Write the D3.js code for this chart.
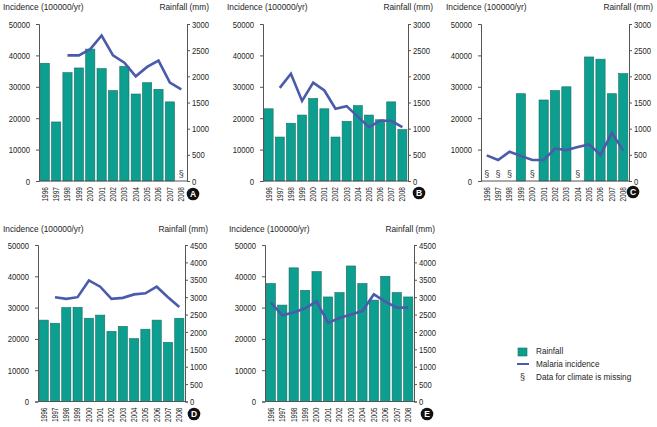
<!DOCTYPE html>
<html><head><meta charset="utf-8">
<script src="https://cdn.jsdelivr.net/npm/d3@7"></script>
<style>
body{margin:0;background:#fff;}
svg{display:block;font-family:"Liberation Sans",Arial,sans-serif;}
</style></head>
<body>
<script>
const years = ["1996","1997","1998","1999","2000","2001","2002","2003","2004","2005","2006","2007","2008"];

// Bars (left axis, Incidence scale) — null = climate data missing (§)
const barsA = [37500,18800,34500,36000,42000,35800,28800,36500,27700,31300,29200,25200,null];
const lineA = [null,null,2400,2400,2520,2780,2400,2260,2000,2180,2300,1880,1750];
const barsB = [23000,14000,18400,21000,26300,23000,14000,19000,24000,21000,19500,25200,16400];
const lineB = [null,1780,2050,1530,1880,1730,1380,1430,1230,1030,1150,1150,1030];
const barsC = [null,null,null,27800,null,25800,28800,30000,null,39500,38800,27800,34200];
const lineC = [490,400,560,480,400,400,620,590,650,700,500,920,580];
const barsD = [26000,25000,30000,30100,26600,27600,22400,24000,20100,23100,26000,18900,26600];
const lineD = [null,3000,2950,3000,3480,3300,2950,2980,3080,3110,3300,3000,2720];
const barsE = [37700,30800,42700,35500,41500,33400,34800,43300,37700,32400,40000,34800,33400];
const lineE = [2850,2480,2560,2680,2880,2260,2400,2500,2600,3080,2870,2700,2700];

const leftTicks = [0,10000,20000,30000,40000,50000];
const rightTicks3000 = [0,500,1000,1500,2000,2500,3000];
const rightTicks4500 = [0,500,1000,1500,2000,2500,3000,3500,4000,4500];

const leftTitle = "Incidence (100000/yr)";
const rightTitle = "Rainfall (mm)";
const legendItems = ["Rainfall","Malaria incidence","Data for climate is missing"];

const BAR = "#0c9e8e", BAR_EDGE = "#1a6e66", LINE = "#4b5bab", AXIS = "#555", TXT = "#1e1e1e";
const SX = 0.8, SXT = 0.86;

const svg = d3.select("body").append("svg").attr("width",657).attr("height",427);

function ctext(sel, x, y, sx){
  return sel.attr("x",0).attr("y",0).attr("transform",`translate(${x},${y}) scale(${sx},1)`);
}

function panel(cfg){
  const g = svg.append("g");
  const x = d3.scaleBand().domain(years).range([cfg.xl, cfg.xr]).paddingInner(0.19).paddingOuter(0.1);
  const y = d3.scaleLinear().domain([0,50000]).range([cfg.yb, cfg.yt]);
  const yr = d3.scaleLinear().domain([0,cfg.rmax]).range([cfg.yb, cfg.yt]);

  g.selectAll("rect.bar").data(years.map((d,i)=>({yr:d,v:cfg.bars[i]})).filter(d=>d.v!=null))
    .join("rect").attr("class","bar")
    .attr("x",d=>x(d.yr)).attr("width",x.bandwidth())
    .attr("y",d=>y(d.v)).attr("height",d=>y(0)-y(d.v))
    .attr("fill",BAR).attr("stroke",BAR_EDGE).attr("stroke-width",0.6);

  g.selectAll("text.miss").data(years.filter((d,i)=>cfg.bars[i]==null))
    .join("text").attr("class","miss")
    .attr("x",d=>x(d)+x.bandwidth()/2).attr("y",cfg.yb-4)
    .attr("text-anchor","middle").attr("font-size",9).attr("fill","#333").text("§");

  const line = d3.line().defined(d=>d.v!=null)
    .x(d=>x(d.yr)+x.bandwidth()/2).y(d=>yr(d.v));
  g.append("path").datum(years.map((d,i)=>({yr:d,v:cfg.line[i]})))
    .attr("d",line).attr("fill","none").attr("stroke",LINE).attr("stroke-width",2.6)
    .attr("stroke-linejoin","miter");

  const la = g.append("g").attr("transform",`translate(${cfg.xl},0)`)
    .call(d3.axisLeft(y).tickValues(leftTicks).tickSize(3).tickPadding(6).tickFormat(d3.format("d")));
  const ra = g.append("g").attr("transform",`translate(${cfg.xr},0)`)
    .call(d3.axisRight(yr).tickValues(cfg.rticks).tickSize(3).tickPadding(2).tickFormat(d3.format("d")));
  [la,ra].forEach(a=>{
    a.select(".domain").attr("stroke",AXIS).attr("stroke-width",1);
    a.selectAll(".tick line").attr("stroke",AXIS);
    a.selectAll(".tick text").attr("font-size",9.6).attr("fill",TXT).attr("font-family",null)
      .each(function(){
        const t = d3.select(this); const xv = +t.attr("x");
        t.attr("x", xv/SX).attr("transform",`scale(${SX},1)`);
      });
  });
  g.append("line").attr("x1",cfg.xl).attr("x2",cfg.xr).attr("y1",cfg.yb).attr("y2",cfg.yb)
    .attr("stroke",AXIS).attr("stroke-width",1);

  g.selectAll("text.yr").data(years).join("text").attr("class","yr")
    .attr("transform",d=>`translate(${x(d)+x.bandwidth()/2},${cfg.yb+6}) rotate(-90) scale(${SX},1)`)
    .attr("text-anchor","end").attr("dy","0.35em").attr("font-size",8.2).attr("fill",TXT).text(d=>d);

  ctext(g.append("text"),cfg.ltx,cfg.ty,SXT).attr("font-size",9.7).attr("fill",TXT).text(leftTitle);
  ctext(g.append("text"),cfg.rtx,cfg.ty,SXT).attr("text-anchor","end").attr("font-size",9.7).attr("fill",TXT).text(rightTitle);

  g.append("circle").attr("cx",cfg.lx).attr("cy",cfg.ly).attr("r",6.3).attr("fill","#111");
  g.append("text").attr("x",cfg.lx).attr("y",cfg.ly).attr("dy","0.36em").attr("text-anchor","middle")
    .attr("font-size",8.5).attr("font-weight","bold").attr("fill","#fff").text(cfg.letter);
}

panel({bars:barsA,line:lineA,xl:39,xr:187,yt:24,yb:181,rmax:3000,rticks:rightTicks3000,ltx:3,rtx:209,ty:10,lx:193,ly:194,letter:"A"});
panel({bars:barsB,line:lineB,xl:263,xr:408,yt:24,yb:181,rmax:3000,rticks:rightTicks3000,ltx:227,rtx:433,ty:10,lx:419,ly:193,letter:"B"});
panel({bars:barsC,line:lineC,xl:481,xr:629,yt:24,yb:181,rmax:3000,rticks:rightTicks3000,ltx:446,rtx:653,ty:10,lx:633,ly:192,letter:"C"});
panel({bars:barsD,line:lineD,xl:38,xr:185,yt:245,yb:401.5,rmax:4500,rticks:rightTicks4500,ltx:3,rtx:208,ty:232,lx:194,ly:414,letter:"D"});
panel({bars:barsE,line:lineE,xl:265,xr:414,yt:245,yb:401.5,rmax:4500,rticks:rightTicks4500,ltx:229,rtx:435,ty:232,lx:427,ly:414,letter:"E"});

const lg = svg.append("g").attr("font-size",9.5).attr("fill",TXT);
lg.append("rect").attr("x",518).attr("y",348).attr("width",9).attr("height",8).attr("fill",BAR).attr("stroke",BAR_EDGE).attr("stroke-width",0.6);
lg.append("line").attr("x1",517).attr("x2",529).attr("y1",364).attr("y2",364).attr("stroke",LINE).attr("stroke-width",2);
lg.append("text").attr("x",522.5).attr("y",377).attr("dy","0.35em").attr("text-anchor","middle").attr("font-size",9).text("§");
lg.selectAll("text.li").data(legendItems).join("text").attr("class","li")
  .attr("dy","0.35em")
  .attr("transform",(d,i)=>`translate(536,${351+i*13}) scale(${SXT},1)`)
  .text(d=>d);
</script>
</body></html>
